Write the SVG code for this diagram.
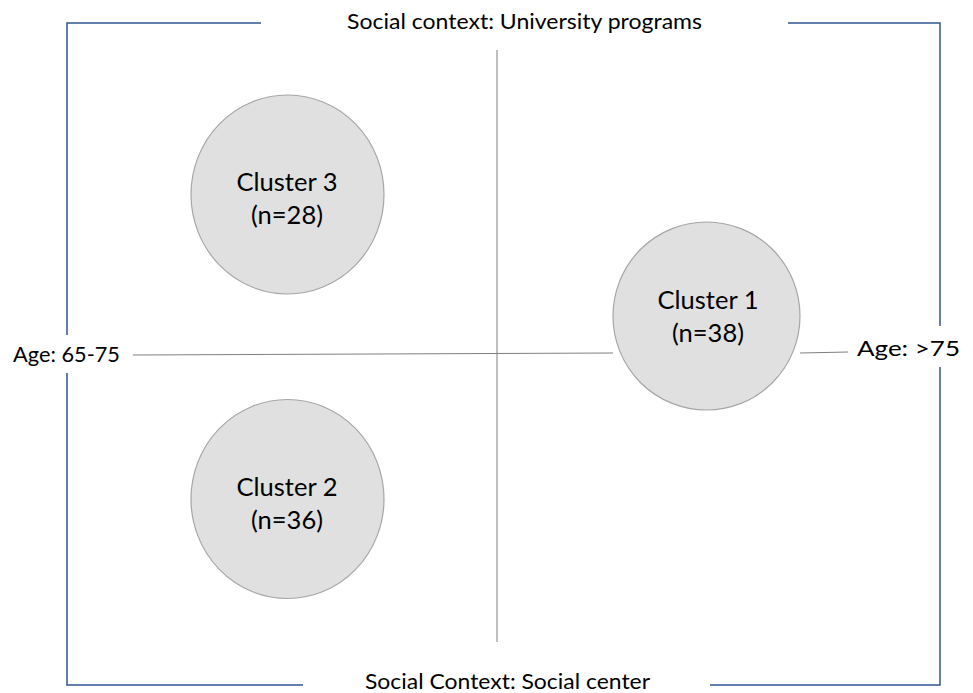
<svg xmlns="http://www.w3.org/2000/svg" width="973" height="693" viewBox="0 0 973 693">
  <style>
    .frame { fill: none; stroke: #2f5597; stroke-width: 1.5; }
    .axis { fill: none; stroke: #7f7f7f; stroke-width: 1; }
    .node ellipse { fill: #e0e0e0; stroke: #a6a6a6; stroke-width: 1.2; }
    .lbl { font-family: Lato, "Open Sans", "Liberation Sans", sans-serif; fill: #000; }
    .axl { font-size: 22px; }
    .ndl { font-size: 25.5px; text-anchor: middle; }
  </style>
  <rect width="973" height="693" fill="#fff"/>

  <!-- outer frame, broken where the axis labels sit -->
  <g id="frame" class="frame">
    <polyline points="261,23 67,23 67,335"/>
    <polyline points="67,373 67,685 303,685"/>
    <polyline points="788,23 940,23 940,326"/>
    <polyline points="940,367 940,685 710,685"/>
  </g>

  <!-- axes -->
  <g id="connectors" class="axis">
    <line x1="497" y1="50" x2="497" y2="642"/>
    <line x1="133" y1="355" x2="613" y2="353"/>
    <line x1="800" y1="353" x2="848" y2="352"/>
  </g>

  <!-- axis labels -->
  <text class="lbl axl" x="347" y="29" textLength="355" lengthAdjust="spacingAndGlyphs">Social context: University programs</text>
  <text class="lbl axl" x="365" y="689" textLength="285" lengthAdjust="spacingAndGlyphs">Social Context: Social center</text>
  <text class="lbl axl" x="13" y="362" textLength="107" lengthAdjust="spacingAndGlyphs">Age: 65-75</text>
  <text class="lbl axl" x="857" y="356" textLength="103" lengthAdjust="spacingAndGlyphs">Age: &gt;75</text>

  <g id="cluster3" class="node">
    <ellipse cx="287.5" cy="194.5" rx="96.5" ry="99.5"/>
    <text class="lbl ndl" x="287" y="191">Cluster 3</text>
    <text class="lbl ndl" x="287" y="224">(n=28)</text>
  </g>

  <g id="cluster2" class="node">
    <ellipse cx="287.5" cy="499" rx="96.5" ry="99.5"/>
    <text class="lbl ndl" x="287" y="496">Cluster 2</text>
    <text class="lbl ndl" x="287" y="529">(n=36)</text>
  </g>

  <g id="cluster1" class="node">
    <ellipse cx="706.5" cy="316" rx="93.5" ry="94"/>
    <text class="lbl ndl" x="708" y="309">Cluster 1</text>
    <text class="lbl ndl" x="708" y="342">(n=38)</text>
  </g>
</svg>
